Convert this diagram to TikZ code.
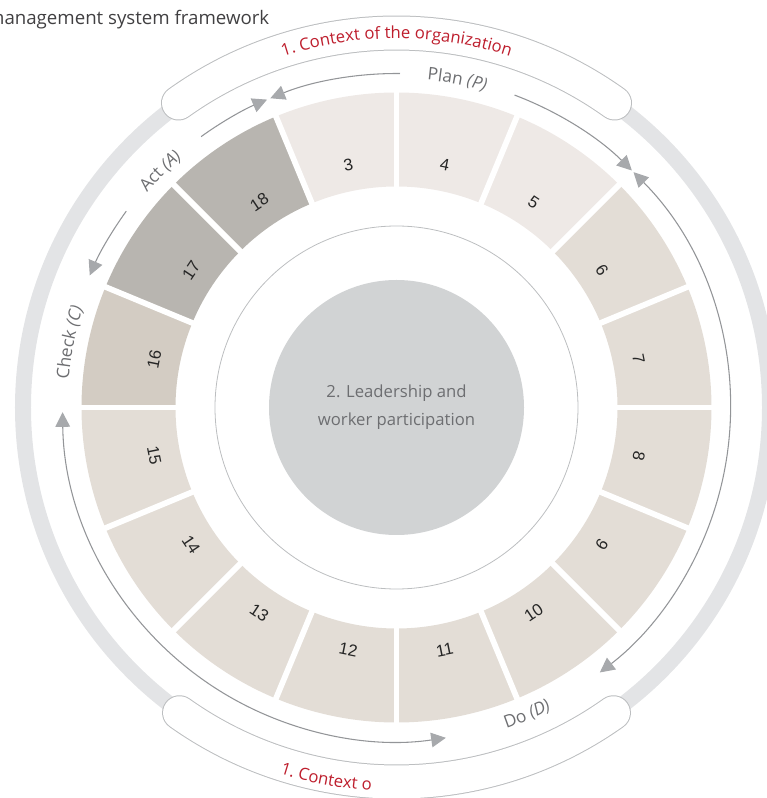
\documentclass[tikz,border=0pt]{standalone}
\usepackage{fontspec}
\setmainfont{Open Sans}
\newfontfamily\numfont{Liberation Sans}
\usetikzlibrary{arrows.meta,decorations.text}
\definecolor{ringgray}{HTML}{E3E4E6}
\definecolor{pillgray}{HTML}{BCBEC0}
\definecolor{arrowgray}{HTML}{A7A9AC}
\definecolor{linegray}{HTML}{939598}
\definecolor{labelgray}{HTML}{6D6E71}
\definecolor{titlegray}{HTML}{414042}
\definecolor{ctxred}{HTML}{BE1E2D}
\definecolor{segplan}{HTML}{EEE9E6}
\definecolor{segdo}{HTML}{E3DDD6}
\definecolor{segcheck}{HTML}{D3CCC3}
\definecolor{segact}{HTML}{B8B5B0}
\definecolor{leadgray}{HTML}{D1D3D4}
\newcommand\labfont{\color{labelgray}\fontsize{13}{15}\selectfont}
\newcommand\ctxfont{\color{ctxred}\fontsize{12.5}{15}\selectfont}
\tikzset{
  pdca/.style={draw=linegray,line width=0.8pt},
  pill/.style={line cap=round,line width=26.25pt,draw=pillgray},
  pillfill/.style={line cap=round,line width=24.75pt,draw=white},
  segno/.style={font=\numfont\fontsize{12.5}{15}\selectfont,text=black!85},
}
\begin{document}
\begin{tikzpicture}[x=0.75pt,y=0.75pt,>={Triangle[length=11pt,width=11pt,color=arrowgray]}]
\useasboundingbox (-396.5,-390.5) rectangle (369.5,407.5);
\node [anchor=base east,text=titlegray,font=\fontsize{14}{16}\selectfont] (title) at (-122.5,382.5) {management system framework};
% outer ring and context bands
\draw [ringgray,line width=12pt] (0,0) circle (373.5);
\draw [pill] (125.6:374.5) arc (125.6:54.4:374.5);
\draw [pillfill] (125.6:374.5) arc (125.6:54.4:374.5);
\draw [pill] (234.6:374.5) arc (234.6:305.4:374.5);
\draw [pillfill] (234.6:374.5) arc (234.6:305.4:374.5);
\path [decorate,decoration={text along path,text align=center,text={|\ctxfont|1. Context of the organization}}] (150:369) arc (150:30:369);
\path [decorate,decoration={text along path,text align=left,text={|\ctxfont|1. Context o}}] (252.3:384) arc (252.3:300:384);
% clauses 3 to 18
\foreach \k/\c/\f in {3/segplan/0,4/segplan/0,5/segplan/0,6/segdo/0,7/segdo/0,8/segdo/0,9/segdo/0,10/segdo/1,11/segdo/1,12/segdo/1,13/segdo/1,14/segdo/1,15/segdo/1,16/segcheck/0,17/segact/0,18/segact/0}{
  \pgfmathsetmacro\a{112.5-22.5*(\k-3)}
  \pgfmathsetmacro\b{\a-22.5}
  \pgfmathsetmacro\m{\a-11.25}
  \pgfmathsetmacro\r{\m-90+180*\f}
  \fill [\c] (\a:221) arc (\a:\b:221) -- (\b:315) arc (\b:\a:315) -- cycle;
  \node [segno,rotate=\r] (n\k) at (\m:247) {\k};
}
\foreach \g in {0,22.5,...,337.5}
  \draw [white,line width=4.3pt] (\g:210) -- (\g:320);
% leadership
\draw [pillgray,line width=0.6pt] (0,0) circle (181.5);
\node [circle,fill=leadgray,minimum size=191.25pt,inner sep=0pt,align=center,text=labelgray,font=\fontsize{12.5}{21}\selectfont] (lead) at (0,0) {2. Leadership and\\worker participation};
% PDCA arrows
\draw [pdca,->] (89.4:334) arc (89.4:112.2:334);
\draw [pdca,->] (69.3:334) arc (69.3:45.2:334);
\draw [pdca,<->] (44.8:334) arc (44.8:-52.5:334);
\draw [pdca,<->] (180.8:334) arc (180.8:278.5:334);
\draw [pdca,->] (144:334) arc (144:156.7:334);
\draw [pdca,->] (125.8:334) arc (125.8:112.8:334);
\path [decorate,decoration={text along path,text align=center,text={|\labfont|Plan |\labfont\itshape|(P)}}] (95:329) arc (95:64:329);
\path [decorate,decoration={text along path,text align=center,text={|\labfont|Act |\labfont\itshape|(A)}}] (150:329) arc (150:120:329);
\path [decorate,decoration={text along path,text align=center,text={|\labfont|Check |\labfont\itshape|(C)}}] (184:329) arc (184:153.5:329);
\path [decorate,decoration={text along path,text align=center,text={|\labfont|Do |\labfont\itshape|(D)}}] (-82:339.5) arc (-82:-52:339.5);
\end{tikzpicture}
\end{document}
